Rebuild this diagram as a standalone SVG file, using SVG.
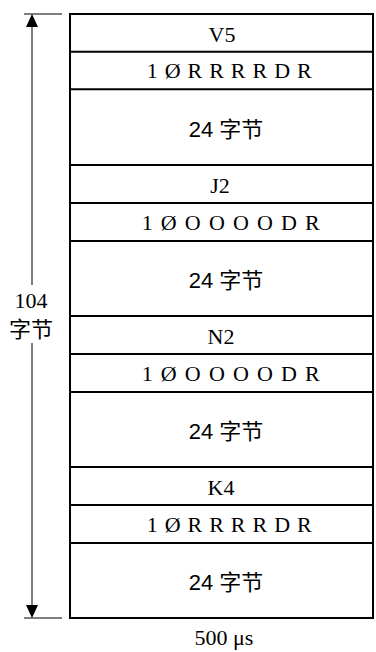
<svg xmlns="http://www.w3.org/2000/svg" width="376" height="652" viewBox="0 0 376 652">
<defs>
<style>
.box{fill:#fff;stroke:#000;stroke-width:2}
.ln{stroke:#000;stroke-width:2;fill:none}
.t{font-family:"Liberation Serif","Times New Roman",serif;font-size:22px;fill:#000;text-anchor:middle}
.b{font-family:"Liberation Serif","Times New Roman",serif;font-size:22px;fill:#000}
.c{font-family:"Liberation Sans","Noto Sans CJK SC",sans-serif;font-size:22px;fill:#000;text-anchor:middle}
.cj{font-family:"Noto Sans CJK SC",sans-serif;font-size:22px}
.dim{stroke:#000;stroke-width:1;fill:none}
</style>
</defs>
<g id="frame">
<rect class="box" x="70" y="14" width="303" height="604"/>
</g>
<g id="connectors">
<line class="ln" x1="70" y1="51.7" x2="373" y2="51.7"/>
<line class="ln" x1="70" y1="89.3" x2="373" y2="89.3"/>
<line class="ln" x1="70" y1="165" x2="373" y2="165"/>
<line class="ln" x1="70" y1="203" x2="373" y2="203"/>
<line class="ln" x1="70" y1="241" x2="373" y2="241"/>
<line class="ln" x1="70" y1="316" x2="373" y2="316"/>
<line class="ln" x1="70" y1="354" x2="373" y2="354"/>
<line class="ln" x1="70" y1="392" x2="373" y2="392"/>
<line class="ln" x1="70" y1="467" x2="373" y2="467"/>
<line class="ln" x1="70" y1="505" x2="373" y2="505"/>
<line class="ln" x1="70" y1="543" x2="373" y2="543"/>
<line class="dim" x1="24" y1="14" x2="62" y2="14"/>
<line class="dim" x1="24" y1="618" x2="62" y2="618"/>
<line class="dim" x1="32" y1="285" x2="32" y2="27"/>
<line class="dim" x1="32" y1="343" x2="32" y2="605"/>
<path d="M32 14 L26 27 L38 27 Z" fill="#000"/>
<path d="M32 618 L26 605 L38 605 Z" fill="#000"/>
</g>
<g id="V5">
<text class="t" x="222" y="41.5">V5</text>
<text class="b" x="146.7" y="78" textLength="165" lengthAdjust="spacing">1ØRRRRDR</text>
<text class="c" x="226" y="137">24 <tspan class="cj">字节</tspan></text>
</g>
<g id="J2">
<text class="t" x="220" y="193">J2</text>
<text class="b" x="141.7" y="229.5" textLength="178" lengthAdjust="spacing">1ØOOOODR</text>
<text class="c" x="226" y="288">24 <tspan class="cj">字节</tspan></text>
</g>
<g id="N2">
<text class="t" x="221" y="344">N2</text>
<text class="b" x="141.7" y="380.5" textLength="178" lengthAdjust="spacing">1ØOOOODR</text>
<text class="c" x="226" y="439">24 <tspan class="cj">字节</tspan></text>
</g>
<g id="K4">
<text class="t" x="221" y="495">K4</text>
<text class="b" x="146.7" y="531.5" textLength="165" lengthAdjust="spacing">1ØRRRRDR</text>
<text class="c" x="226" y="590">24 <tspan class="cj">字节</tspan></text>
</g>
<g id="size-label">
<text class="t" x="31" y="308">104</text>
<text class="t" x="31" y="337"><tspan class="cj">字节</tspan></text>
</g>
<g id="time-label">
<text class="t" x="224" y="645">500 μs</text>
</g>
</svg>
